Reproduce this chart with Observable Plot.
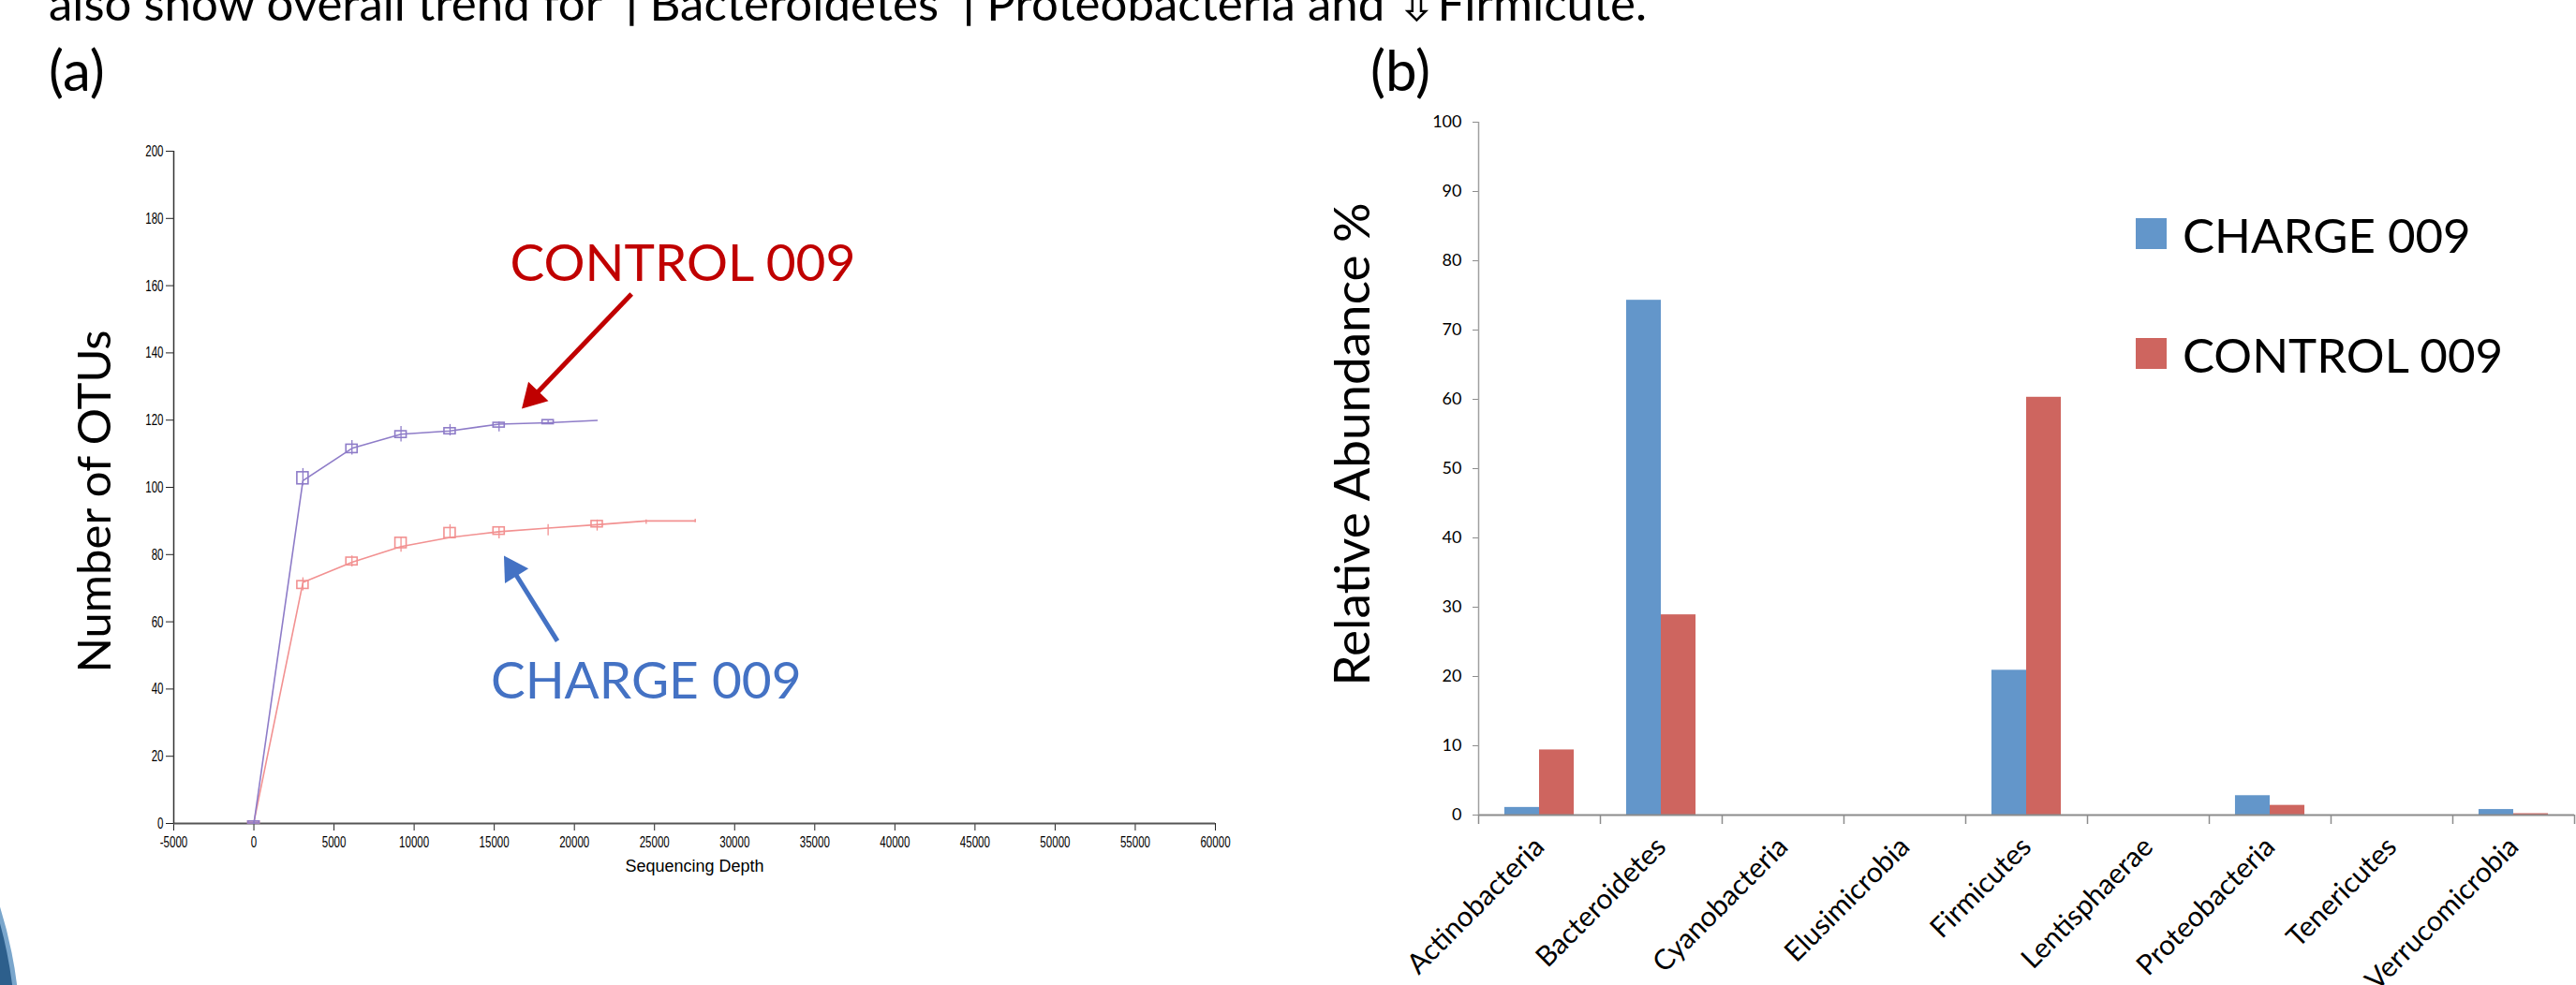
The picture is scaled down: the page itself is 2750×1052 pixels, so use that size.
<!DOCTYPE html>
<html><head><meta charset="utf-8">
<script src="https://cdn.jsdelivr.net/npm/d3@7"></script>
<script src="https://cdn.jsdelivr.net/npm/@observablehq/plot@0.6"></script>
<style>
html,body{margin:0;padding:0;background:#fff;}
#page{position:relative;width:2750px;height:1052px;overflow:hidden;background:#fff;font-family:Lato,"Open Sans",sans-serif;color:#000;}
.abs{position:absolute;white-space:nowrap;line-height:1;}
</style></head><body><div id="page"></div>
<script>
// ---------------- DATA ----------------
// (a) rarefaction: sequencing depth vs number of OTUs
const depth = [0, 3060, 6120, 9180, 12240, 15300, 18360, 21420, 24480, 27540];
const controlMean = [0, 102, 111.6, 115.8, 116.8, 118.8, 119.2, 119.9];
const controlQ1   = [0, 100.9, 110.2, 114.7, 115.8, 117.8, 118.8, null];
const controlQ3   = [0.6, 104.5, 112.7, 116.7, 117.6, 119.2, 120.0, null];
const controlLo   = [0, 100.5, 109.6, 113.5, 115.3, 116.5, 118.8, null];
const controlHi   = [0.8, 105.6, 113.9, 118.1, 118.7, 119.5, 120.0, null];
const chargeMean  = [0.4, 71.7, 77.7, 82.4, 85.1, 86.8, 87.9, 88.9, 90.0, 90.0];
const chargeQ1    = [0, 69.8, 76.8, 81.9, 84.9, 85.9, null, 88.1, null, null];
const chargeQ3    = [0.6, 72.1, 79.1, 85.0, 87.9, 88.1, null, 90.0, null, null];
const chargeLo    = [0, 69.2, 76.3, 80.7, 84.9, 84.7, 85.6, 87.0, 89.0, 89.5];
const chargeHi    = [0.8, 73.1, 79.6, 85.0, 88.9, 88.1, 88.9, 90.3, 90.3, 90.5];
const depthTicks = [-5000, 0, 5000, 10000, 15000, 20000, 25000, 30000, 35000, 40000, 45000, 50000, 55000, 60000];
const otuTicks = [0, 20, 40, 60, 80, 100, 120, 140, 160, 180, 200];
const annotLabels = ["CONTROL 009", "CHARGE 009"];
const annotX = [15980, 14780];
const annotY = [166.4, 42.2];
const arrowFromX = [23566, 18940];
const arrowFromY = [157.5, 54.3];
const arrowToX = [16716, 15603];
const arrowToY = [123.4, 79.7];

// (b) relative abundance by phylum
const phyla = ["Actinobacteria", "Bacteroidetes", "Cyanobacteria", "Elusimicrobia", "Firmicutes", "Lentisphaerae", "Proteobacteria", "Tenericutes", "Verrucomicrobia"];
const chargeAbund  = [1.1, 74.3, 0, 0, 20.9, 0, 2.8, 0, 0.8];
const controlAbund = [9.4, 28.9, 0, 0, 60.3, 0, 1.4, 0, 0.2];
const seriesNames = ["CHARGE 009", "CONTROL 009"];
const abundTicks = [0, 10, 20, 30, 40, 50, 60, 70, 80, 90, 100];

// ---------------- STYLE ----------------
const PURPLE = "#8e7cc8", PINK = "#f29191";
const RED = "#c00000", BLUE = "#4472c4";
const BAR_BLUE = "#6396ca", BAR_RED = "#ce655f";
const NARROW = '"Liberation Sans",Arial,sans-serif';
const HUMAN = 'Lato,"Open Sans",sans-serif';

const page = document.getElementById("page");
function addDiv(html, css) {
  const d = document.createElement("div");
  d.className = "abs";
  d.innerHTML = html;
  Object.assign(d.style, css);
  page.appendChild(d);
  return d;
}
function squeeze(el, s) {
  const t = el.getAttribute("transform");
  if (t) el.setAttribute("transform", t + ` scale(${s},1)`);
  else {
    const x = +(el.getAttribute("x") || 0), y = +(el.getAttribute("y") || 0);
    el.setAttribute("transform", `translate(${x},${y}) scale(${s},1) translate(${-x},${-y})`);
  }
}

// decoration (slide template corner)
addDiv("", {left: "-962px", top: "622px", width: "984px", height: "984px", borderRadius: "50%",
  background: "#2d5f8c", border: "5px solid #7aa6cc", boxSizing: "border-box"});

// title line (cut by the top edge, as in the slide) and panel letters
addDiv("also show overall trend for \u2191Bacteroidetes \u2191Proteobacteria and \u21e9Firmicute.",
  {left: "52px", top: "-23px", fontSize: "51px", fontFamily: HUMAN});
addDiv("(a)", {left: "52px", top: "44px", fontSize: "60px", fontFamily: HUMAN});
addDiv("(b)", {left: "1463px", top: "44px", fontSize: "60px", fontFamily: HUMAN});

// ---------------- PANEL (a) ----------------
const WA = 1400, HA = 1052;
const mA = {left: 185, right: WA - 1297, top: 161, bottom: HA - 879};
const xA = d3.scaleLinear([-5000, 60000], [mA.left, WA - mA.right]);
const yA = d3.scaleLinear([0, 200], [HA - mA.bottom, mA.top]);

const controlRows = controlMean.map((m, i) => ({depth: depth[i], mean: m, q1: controlQ1[i], q3: controlQ3[i], lo: controlLo[i], hi: controlHi[i]}));
const chargeRows = chargeMean.map((m, i) => ({depth: depth[i], mean: m, q1: chargeQ1[i], q3: chargeQ3[i], lo: chargeLo[i], hi: chargeHi[i]}));
const boxHalf = 6 * (65000 / (WA - mA.left - mA.right)); // 6px in data units

const annots = annotLabels.map((t, i) => ({text: t, x: annotX[i], y: annotY[i], color: i === 0 ? RED : BLUE,
  x1: arrowFromX[i], y1: arrowFromY[i], x2: arrowToX[i], y2: arrowToY[i]}));
const headR = 11;
const headTip = 2 * Math.sqrt(Math.PI * headR * headR / (3 * Math.sqrt(3)));
annots.forEach(a => {
  const sx1 = xA(a.x1), sy1 = yA(a.y1), sx2 = xA(a.x2), sy2 = yA(a.y2);
  const L = Math.hypot(sx2 - sx1, sy2 - sy1), ux = (sx2 - sx1) / L, uy = (sy2 - sy1) / L;
  a.angle = Math.atan2(ux, -uy) * 180 / Math.PI;
  a.hx = xA.invert(sx2 - ux * headTip); a.hy = yA.invert(sy2 - uy * headTip);
  a.sx = xA.invert(sx2 - ux * headTip * 1.2); a.sy = yA.invert(sy2 - uy * headTip * 1.2);
});

function boxMarks(rows, color) {
  const boxes = rows.filter(d => d.q1 != null);
  const whisk = rows.filter(d => d.lo != null);
  return [
    Plot.ruleX(whisk, {x: "depth", y1: "lo", y2: "hi", stroke: color, strokeWidth: 1.3}),
    Plot.rect(boxes, {x1: d => d.depth - boxHalf, x2: d => d.depth + boxHalf, y1: "q1", y2: "q3", stroke: color, fill: "white", fillOpacity: 0, strokeWidth: 1.6}),
    Plot.line(rows, {x: "depth", y: "mean", stroke: color, strokeWidth: 1.6})
  ];
}

const plotA = Plot.plot({
  width: WA, height: HA,
  marginLeft: mA.left, marginRight: mA.right, marginTop: mA.top, marginBottom: mA.bottom,
  style: {fontFamily: NARROW, fontSize: "17px", background: "transparent", overflow: "visible"},
  x: {domain: [-5000, 60000]},
  y: {domain: [0, 200]},
  marks: [
    Plot.axisY({ticks: otuTicks, tickSize: 8, tickPadding: 3, tickFormat: d => String(d), label: null, fontSize: 17, stroke: "#222"}),
    Plot.axisX({ticks: depthTicks, tickSize: 8, tickPadding: 5, tickFormat: d => String(d), label: null, fontSize: 17, stroke: "#222"}),
    Plot.ruleY([0], {stroke: "#555", strokeWidth: 2}),
    Plot.ruleX([-5000], {stroke: "#333", strokeWidth: 1.5}),
    ...boxMarks(chargeRows, PINK),
    ...boxMarks(controlRows, PURPLE),
    Plot.link(annots, {x1: "x1", y1: "y1", x2: "sx", y2: "sy", stroke: "color", strokeWidth: 5}),
    Plot.dot(annots, {x: "hx", y: "hy", symbol: "triangle", r: headR, rotate: "angle", fill: "color", stroke: null}),
    Plot.text(annots, {x: "x", y: "y", text: "text", fill: "color", textAnchor: "start", fontSize: 55, fontFamily: HUMAN}),
    Plot.text(["Sequencing Depth"], {frameAnchor: "bottom", textAnchor: "middle", lineAnchor: "middle", dy: 46, fontSize: 18, fontFamily: NARROW, ariaLabel: "seqdepth"}),
    Plot.text(["Number of OTUs"], {frameAnchor: "left", textAnchor: "middle", lineAnchor: "middle", rotate: -90, dx: -83, dy: 15, fontSize: 49, fontFamily: HUMAN})
  ]
});
plotA.querySelectorAll('g[aria-label="y-axis tick label"] text, g[aria-label="x-axis tick label"] text').forEach(t => squeeze(t, 0.68));
plotA.querySelectorAll('g[aria-label="seqdepth"] text').forEach(t => squeeze(t, 0.74));
plotA.style.position = "absolute"; plotA.style.left = "0px"; plotA.style.top = "0px";
page.appendChild(plotA);

// ---------------- PANEL (b) ----------------
const LB = 1300;              // page x of the svg's left edge
const WB = 2750 - LB, HB = 1052;
const mB = {left: 1578 - LB, right: 2, top: 130, bottom: HB - 870};
const barRows = [];
phyla.forEach((p, i) => {
  barRows.push({i, phylum: p, series: seriesNames[0], value: chargeAbund[i]});
  barRows.push({i, phylum: p, series: seriesNames[1], value: controlAbund[i]});
});
const barW = 0.285;
const plotB = Plot.plot({
  width: WB, height: HB,
  marginLeft: mB.left, marginRight: mB.right, marginTop: mB.top, marginBottom: mB.bottom,
  style: {fontFamily: HUMAN, fontSize: "18px", background: "transparent", overflow: "visible"},
  x: {domain: [0, phyla.length]},
  y: {domain: [0, 100]},
  color: {domain: seriesNames, range: [BAR_BLUE, BAR_RED]},
  marks: [
    Plot.rect(barRows, {
      x1: d => d.i + 0.5 - (d.series === seriesNames[0] ? barW : 0),
      x2: d => d.i + 0.5 + (d.series === seriesNames[0] ? 0 : barW),
      y1: 0, y2: "value", fill: "series"}),
    Plot.axisY({ticks: abundTicks, tickSize: 6, tickPadding: 12, label: null, fontSize: 18, stroke: "#8c8c8c"}),
    Plot.axisX({ticks: d3.range(0, phyla.length + 1), tickSize: 10, tickFormat: () => "", label: null, stroke: "#8c8c8c", strokeWidth: 1.5}),
    Plot.axisX({ticks: phyla.map((p, i) => i + 0.5), tickSize: 0, tickPadding: 29, tickRotate: -45, tickFormat: d => phyla[Math.floor(d)], label: null, fontSize: 30}),
    Plot.ruleY([0], {stroke: "#8c8c8c", strokeWidth: 2}),
    Plot.ruleX([0], {stroke: "#a0a0a0", strokeWidth: 1.5}),
    Plot.text(["Relative Abundance %"], {frameAnchor: "left", textAnchor: "middle", lineAnchor: "middle", rotate: -90, dx: -133, dy: -26, fontSize: 53, fontFamily: HUMAN})
  ]
});
plotB.style.position = "absolute"; plotB.style.left = LB + "px"; plotB.style.top = "0px";
page.appendChild(plotB);

// legend for (b)
seriesNames.forEach((s, i) => {
  const top = 233 + i * 128;
  addDiv("", {left: "2280px", top: top + "px", width: "33px", height: "33px", background: i === 0 ? BAR_BLUE : BAR_RED});
  addDiv(s, {left: "2330px", top: (top - 8) + "px", fontSize: "51px", fontFamily: HUMAN});
});
</script></body></html>
